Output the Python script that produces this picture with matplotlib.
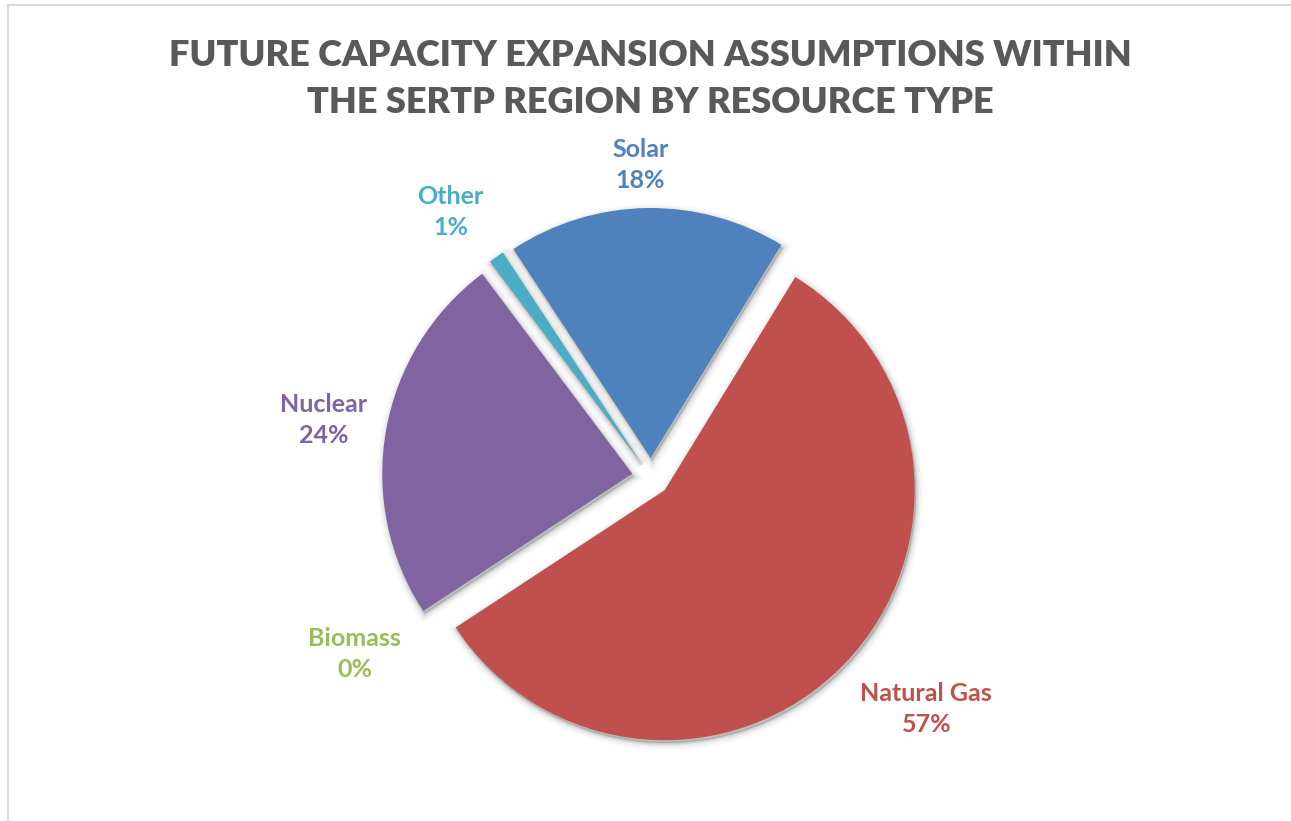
import matplotlib
matplotlib.use('Agg')
import matplotlib.pyplot as plt
from matplotlib.patches import Wedge
import numpy as np

plt.rcParams['font.family'] = ['Lato', 'DejaVu Sans']

# data
resources = ['Natural Gas', 'Biomass', 'Nuclear', 'Other', 'Solar']
shares = [57, 0, 24, 1, 18]
colors = ['#C0504D', '#9BBB59', '#8064A2', '#4BACC6', '#4F81BD']
# label placement: distance (in radii) and angle nudge (deg, counter-clockwise)
label_dist = [1.44, 1.38, 1.33, 1.33, 1.25]
label_nudge = [4, -2.5, 0, 2, 1]

W, H = 1291, 821
fig = plt.figure(figsize=(W / 100, H / 100), dpi=100)
ax = fig.add_axes([0, 0, 1, 1])

cx, cy, r = 651, H - 477, 250

# explode is in data units here, so scale by the radius
wedges, _ = ax.pie(shares, colors=colors, startangle=58.5, counterclock=False,
                   center=(cx, cy), radius=r, explode=[0.076 * r] * len(shares),
                   wedgeprops=dict(linewidth=0, zorder=3), frame=True)
ax.set_xlim(0, W)
ax.set_ylim(0, H)
ax.set_aspect('equal')
ax.axis('off')

# soft shadow behind each slice
for w in wedges:
    if w.theta2 - w.theta1 < 0.01:
        continue
    for lw, a in [(10, 0.025), (7, 0.035), (4, 0.05), (2, 0.07)]:
        sh = Wedge((w.center[0] + 1.5, w.center[1] - 3), w.r, w.theta1, w.theta2,
                   facecolor='#000000', edgecolor='#000000', linewidth=lw,
                   alpha=a, zorder=2)
        ax.add_patch(sh)

# data labels
total = sum(shares)
for w, name, val, c, d, nd in zip(wedges, resources, shares, colors,
                                  label_dist, label_nudge):
    mid = np.deg2rad((w.theta1 + w.theta2) / 2 + nd)
    x = cx + d * r * np.cos(mid)
    y = cy + d * r * np.sin(mid)
    ax.text(x, y, f'{name}\n{round(100 * val / total)}%', color=c,
            fontsize=18, fontweight='bold', ha='center', va='center',
            linespacing=1.42, zorder=5)

# title
fig.text(0.504, 1 - 79 / H,
         'FUTURE CAPACITY EXPANSION ASSUMPTIONS WITHIN\nTHE SERTP REGION BY RESOURCE TYPE',
         ha='center', va='center', fontsize=26, fontweight='heavy',
         color='#595959', linespacing=1.5)

# chart border (top and left visible)
fig.add_artist(plt.Line2D([7.5 / W, 7.5 / W], [0, 1 - 5.5 / H], transform=fig.transFigure,
                          color='#D9D9D9', linewidth=1.5))
fig.add_artist(plt.Line2D([7.5 / W, 1], [1 - 5.5 / H, 1 - 5.5 / H], transform=fig.transFigure,
                          color='#D9D9D9', linewidth=1.5))

fig.savefig('out.png', dpi=100, facecolor='white')
